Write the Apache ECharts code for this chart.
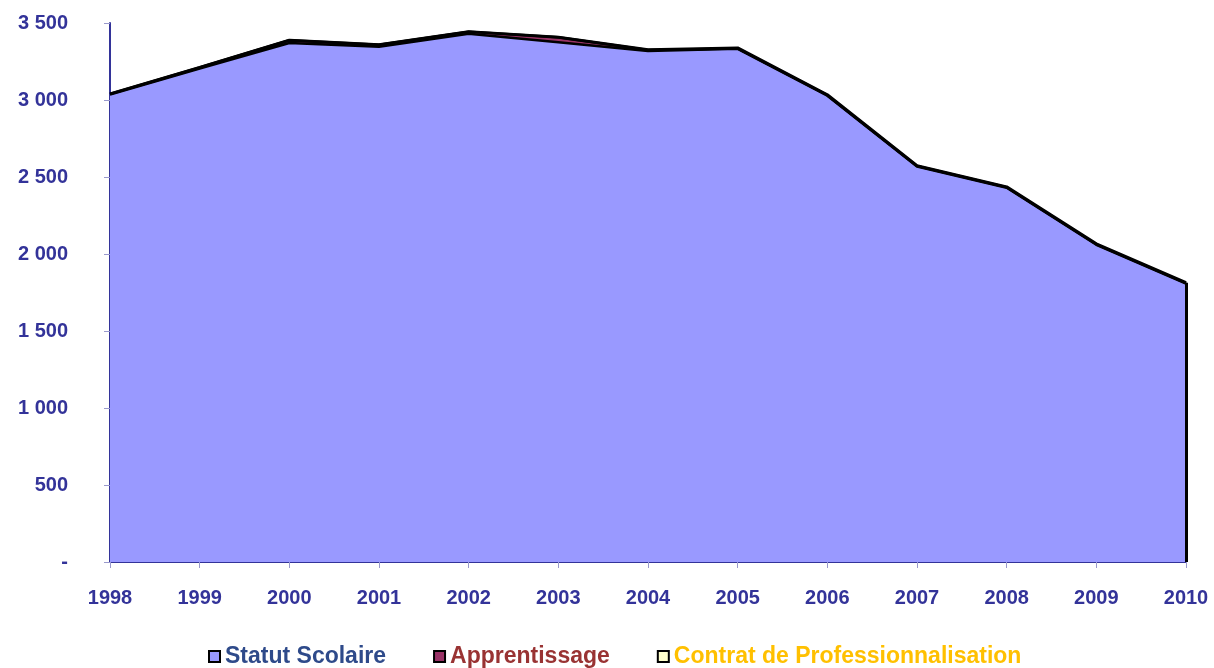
<!DOCTYPE html>
<html>
<head>
<meta charset="utf-8">
<title>Effectifs</title>
<script src="https://cdn.jsdelivr.net/npm/echarts@6/dist/echarts.min.js"></script>
<style>
  html, body { margin: 0; padding: 0; background: #fff; }
  #chart { width: 1214px; height: 668px; }
</style>
</head>
<body>
<div id="chart"></div>
<script>
  // données
  var years = ['1998', '1999', '2000', '2001', '2002', '2003', '2004', '2005', '2006', '2007', '2008', '2009', '2010'];
  var statutScolaire = [3035, 3205, 3370, 3345, 3430, 3375, 3318, 3332, 3028, 2568, 2430, 2060, 1808];
  var apprentissage = [5, 6, 18, 14, 14, 32, 6, 3, 3, 3, 3, 3, 3];
  var contratPro = [0, 0, 0, 0, 0, 0, 2, 3, 3, 3, 3, 3, 3];

  var axisBlue = '#333399';
  var chart = echarts.init(document.getElementById('chart'));

  var total2010 = statutScolaire[12] + apprentissage[12] + contratPro[12];

  var option = {
    animation: false,
    grid: { left: 110, right: 28, top: 23, bottom: 106, containLabel: false },
    legend: {
      top: 640,
      left: 203,
      itemWidth: 11,
      itemHeight: 11,
      itemGap: 47,
      icon: 'rect',
      textStyle: { fontFamily: 'Liberation Sans', fontWeight: 'bold', fontSize: 23 },
      data: [
        { name: 'Statut Scolaire', textStyle: { color: '#2e4a8a' } },
        { name: 'Apprentissage', textStyle: { color: '#993333' } },
        { name: 'Contrat de Professionnalisation', textStyle: { color: '#ffc000' } }
      ]
    },
    xAxis: {
      type: 'category',
      data: years,
      boundaryGap: false,
      axisLine: { lineStyle: { color: axisBlue, width: 2 } },
      axisTick: { show: true, length: 6, lineStyle: { color: '#9999cc' } },
      axisLabel: { color: axisBlue, fontFamily: 'Liberation Sans', fontWeight: 'bold', fontSize: 20, margin: 26 }
    },
    yAxis: {
      type: 'value',
      min: 0,
      max: 3500,
      interval: 500,
      splitLine: { show: false },
      axisLine: { show: true, lineStyle: { color: axisBlue, width: 2 } },
      axisTick: { show: true, length: 6, lineStyle: { color: '#9999cc' } },
      axisLabel: {
        color: axisBlue, fontFamily: 'Liberation Sans', fontWeight: 'bold', fontSize: 20, margin: 42,
        formatter: function (v) {
          if (v === 0) return '-';
          return String(v).replace(/\B(?=(\d{3})+(?!\d))/g, ' ');
        }
      }
    },
    series: [
      {
        name: 'Statut Scolaire',
        type: 'line',
        stack: 'total',
        data: statutScolaire,
        symbol: 'none',
        lineStyle: { color: '#000', width: 2.5 },
        itemStyle: { color: '#9999ff', borderColor: '#000', borderWidth: 1.5 },
        areaStyle: { color: '#9999ff', opacity: 1 }
      },
      {
        name: 'Apprentissage',
        type: 'line',
        stack: 'total',
        data: apprentissage,
        symbol: 'none',
        lineStyle: { color: '#000', width: 2.5 },
        itemStyle: { color: '#993366', borderColor: '#000', borderWidth: 1.5 },
        areaStyle: { color: '#993366', opacity: 1 }
      },
      {
        name: 'Contrat de Professionnalisation',
        type: 'line',
        stack: 'total',
        data: contratPro,
        symbol: 'none',
        lineStyle: { color: '#000', width: 3 },
        itemStyle: { color: '#ffffcc', borderColor: '#000', borderWidth: 1.5 },
        areaStyle: { color: '#ffffcc', opacity: 1 },
        markLine: {
          silent: true,
          symbol: 'none',
          label: { show: false },
          lineStyle: { color: '#000', width: 3, type: 'solid' },
          data: [[{ coord: [years[12], 0] }, { coord: [years[12], total2010] }]]
        }
      }
    ]
  };

  chart.setOption(option);
</script>
</body>
</html>
